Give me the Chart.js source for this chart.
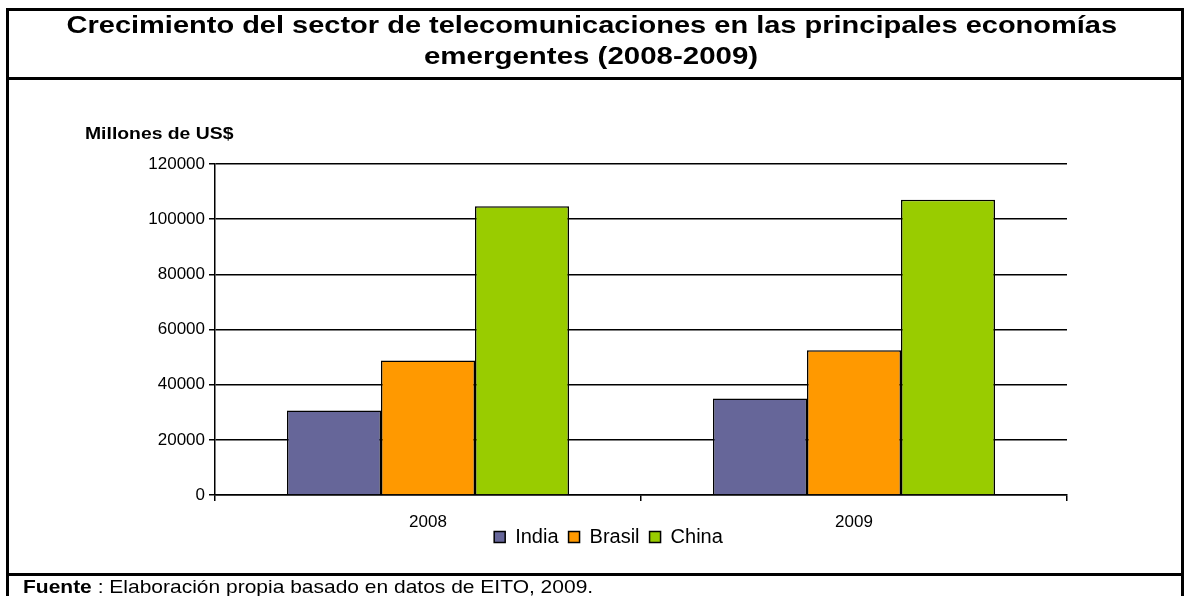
<!DOCTYPE html>
<html>
<head>
<meta charset="utf-8">
<script src="https://cdn.jsdelivr.net/npm/chart.js@4/dist/chart.umd.min.js"></script>
<style>
  body { margin: 0; background: #fff; width: 1185px; height: 596px; overflow: hidden; position: relative; font-family: "Liberation Sans", Arial, sans-serif; }
  #c { position: absolute; left: 0; top: 0; }
  .line { position: absolute; background: #000; }
  .txt { position: absolute; white-space: nowrap; color: #000; }
  .txt span { display: inline-block; }
</style>
</head>
<body>
<canvas id="c" width="1185" height="596"></canvas>

<div class="line" style="left:6px; top:8px; width:1178px; height:3px"></div>
<div class="line" style="left:6px; top:8px; width:3px; height:600px"></div>
<div class="line" style="left:1181px; top:8px; width:3px; height:600px"></div>
<div class="line" style="left:6px; top:77px; width:1178px; height:3px"></div>
<div class="line" style="left:6px; top:573px; width:1178px; height:3px"></div>

<div class="txt" id="t1" style="left:0; width:1183px; text-align:center; top:13px; font:bold 24px 'Liberation Sans', Arial; line-height:24px"><span>Crecimiento del sector de telecomunicaciones en las principales economías</span></div>
<div class="txt" id="t2" style="left:0; width:1183px; text-align:center; top:44px; font:bold 24px 'Liberation Sans', Arial; line-height:24px"><span>emergentes (2008-2009)</span></div>
<div class="txt" id="yt" style="left:85px; top:125px; font:bold 17px 'Liberation Sans', Arial; line-height:17px"><span>Millones de US$</span></div>
<div class="txt" id="ft" style="left:23px; top:577px; font:19px 'Liberation Sans', Arial; line-height:19px"><span><b>Fuente</b> : Elaboración propia basado en datos de EITO, 2009.</span></div>

<script>
var years = ['2008', '2009'];
var india = [30600, 35000];
var brasil = [48800, 52500];
var china = [104700, 107000];
var yTicks = [0, 20000, 40000, 60000, 80000, 100000, 120000];

// stretch the text a bit, the original picture is wider than Arial
function fit(id, w, origin) {
  var s = document.querySelector('#' + id + ' span');
  s.style.transformOrigin = origin;
  s.style.transform = 'scaleX(' + (w / s.offsetWidth) + ')';
}
fit('t1', 1051, 'center');
fit('t2', 334, 'center');
fit('yt', 148, 'left');
fit('ft', 570, 'left');

// legend sits right under the year labels in the original, pull it up
var legendUp = {
  id: 'legendUp',
  afterLayout: function (chart) {
    var lg = chart.legend;
    var d = lg.top - 517;
    lg.top -= d;
    lg.bottom -= d;
    lg.left += 20;
    lg.right += 20;
  }
};

var ctx = document.getElementById('c').getContext('2d');
var chart = new Chart(ctx, {
  type: 'bar',
  data: {
    labels: years,
    datasets: [
      { label: 'India', data: india, backgroundColor: '#666699', borderColor: '#000', borderWidth: 1.5 },
      { label: 'Brasil', data: brasil, backgroundColor: '#FF9900', borderColor: '#000', borderWidth: 1.5 },
      { label: 'China', data: china, backgroundColor: '#99CC00', borderColor: '#000', borderWidth: 1.5 }
    ]
  },
  plugins: [legendUp],
  options: {
    responsive: false,
    animation: false,
    events: [],
    layout: { padding: { left: 110, top: 164, right: 118, bottom: 23 } },
    datasets: { bar: { barPercentage: 1, categoryPercentage: 0.662 } },
    plugins: {
      title: { display: false },
      tooltip: { enabled: false },
      legend: {
        position: 'bottom',
        labels: {
          boxWidth: 11, boxHeight: 11, color: '#000', padding: 10,
          font: { family: "'Liberation Sans', Arial", size: 20 }
        }
      }
    },
    scales: {
      x: {
        offset: true,
        grid: { offset: true, drawOnChartArea: false, drawTicks: true, tickLength: 6, color: '#000', lineWidth: 1.5 },
        border: { color: '#000', width: 1.5 },
        ticks: { color: '#000', padding: 11, font: { family: "'Liberation Sans', Arial", size: 17 } },
        afterFit: function (s) { s.height = 38; }
      },
      y: {
        min: 0, max: 120000,
        afterBuildTicks: function (s) { s.ticks = yTicks.map(function (v) { return { value: v }; }); },
        grid: { color: '#000', lineWidth: 1.5, tickLength: 6 },
        border: { color: '#000', width: 1.5 },
        ticks: {
          color: '#000', padding: 4,
          font: { family: "'Liberation Sans', Arial", size: 17 },
          callback: function (v) { return String(v); }
        },
        afterFit: function (s) { s.width = 105; }
      }
    }
  }
});
</script>
</body>
</html>
